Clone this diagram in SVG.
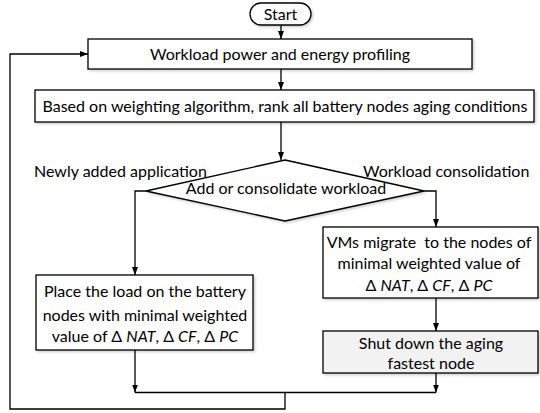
<svg xmlns="http://www.w3.org/2000/svg" width="540" height="413" viewBox="0 0 540 413">
<style>
.box{fill:#ffffff;stroke:#000;stroke-width:1.3;filter:url(#sh)}
.gray{fill:#f2f2f2;stroke:#000;stroke-width:1.3;filter:url(#sh)}
.t{font-family:Lato,"Liberation Sans",sans-serif;font-size:16px;fill:#000;text-anchor:middle}
.l{font-family:Lato,"Liberation Sans",sans-serif;font-size:16px;fill:#000}
.c{fill:none;stroke:#000;stroke-width:1.3}
.i{font-style:italic}
.pre{white-space:pre}
</style>
<defs>
<marker id="ah" viewBox="0 0 8 8" refX="8" refY="4" markerWidth="8" markerHeight="8" markerUnits="userSpaceOnUse" orient="auto">
<path d="M0,1 L8,4 L0,7 Z" fill="#000"/>
</marker>
<filter id="sh" x="-5%" y="-5%" width="115%" height="125%">
<feDropShadow dx="1.5" dy="1.5" stdDeviation="1" flood-color="#000" flood-opacity="0.2"/>
</filter>
</defs>
<rect width="540" height="413" fill="#fff"/>
<g id="connectors">
<path class="c" d="M281,25 V39" marker-end="url(#ah)"/>
<path class="c" d="M281,69 V90" marker-end="url(#ah)"/>
<path class="c" d="M281,122 V160" marker-end="url(#ah)"/>
<path class="c" d="M146,191 H135 V275" marker-end="url(#ah)"/>
<path class="c" d="M424,191 H436 V227" marker-end="url(#ah)"/>
<path class="c" d="M436,298 V331" marker-end="url(#ah)"/>
<path class="c" d="M135,350 V392.5" marker-end="url(#ah)"/>
<path class="c" d="M436,373 V392.5" marker-end="url(#ah)"/>
<path class="c" d="M135,392.5 H436"/>
<path class="c" d="M285,392.5 V409 H10 V54 H88" marker-end="url(#ah)"/>
</g>
<g id="start">
<rect class="box" x="250" y="3" width="61" height="22" rx="11" ry="11"/>
<text class="t" x="280.5" y="20">Start</text>
</g>
<g id="profiling">
<rect class="box" x="88" y="39" width="384" height="30"/>
<text class="t" x="280" y="59.5">Workload power and energy profiling</text>
</g>
<g id="rank">
<rect class="box" x="35" y="90" width="499" height="32"/>
<text class="t" x="285" y="111.5">Based on weighting algorithm, rank all battery nodes aging conditions</text>
</g>
<g id="decision">
<path class="box" d="M285,160 L424,191 L285,221 L146,191 Z"/>
<text class="t" x="286" y="194">Add or consolidate workload</text>
</g>
<g id="labels">
<text class="l" x="34" y="177">Newly added application</text>
<text class="l" x="363" y="177">Workload consolidation</text>
</g>
<g id="place">
<rect class="box" x="36" y="275" width="217" height="75"/>
<text class="t" x="145" y="297">Place the load on the battery</text>
<text class="t" x="145" y="320.5">nodes with minimal weighted</text>
<text class="t" x="145" y="342">value of Δ <tspan class="i">NAT</tspan>, Δ <tspan class="i">CF</tspan>, Δ <tspan class="i">PC</tspan></text>
</g>
<g id="migrate">
<rect class="box" x="323" y="227" width="215" height="71"/>
<text class="t pre" x="429" y="248">VMs migrate  to the nodes of</text>
<text class="t" x="429" y="269">minimal weighted value of</text>
<text class="t" x="429" y="290.5">Δ <tspan class="i">NAT</tspan>, Δ <tspan class="i">CF</tspan>, Δ <tspan class="i">PC</tspan></text>
</g>
<g id="shutdown">
<rect class="gray" x="323" y="331" width="215" height="42"/>
<text class="t" x="431" y="349">Shut down the aging</text>
<text class="t" x="431" y="369">fastest node</text>
</g>
</svg>
